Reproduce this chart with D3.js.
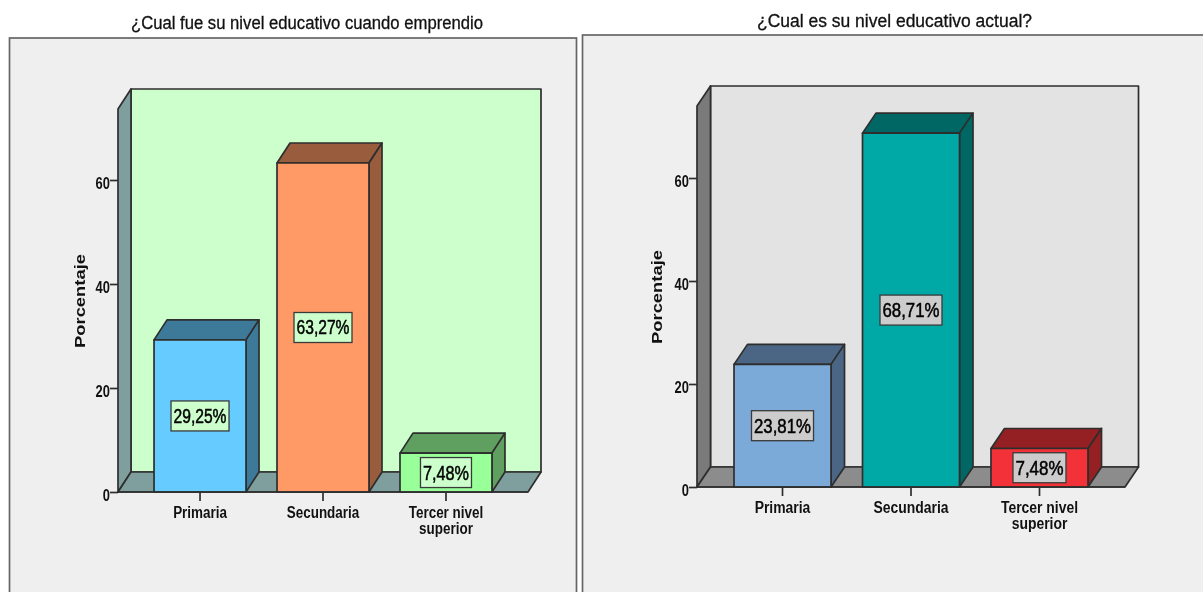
<!DOCTYPE html>
<html><head><meta charset="utf-8">
<script src="https://cdnjs.cloudflare.com/ajax/libs/d3/7.8.5/d3.min.js"></script>
<style>html,body{margin:0;padding:0;background:#fff;overflow:hidden}svg{display:block;filter:blur(0.4px)}</style>
</head><body><svg id="c" width="1203" height="592"></svg>
<script>
const categories = ["Primaria", "Secundaria", "Tercer nivel superior"];
const tickLabelLines = [["Primaria"], ["Secundaria"], ["Tercer nivel", "superior"]];
const yTicks = [0, 20, 40, 60];
const yTitle = "Porcentaje";

const leftTitle = "¿Cual fue su nivel educativo cuando emprendio";
const leftValues = [29.25, 63.27, 7.48];
const leftFronts = ["#66ccff", "#ff9966", "#99ff99"];
const leftDarks = ["#3d7a99", "#995c3d", "#5f9f5f"];

const rightTitle = "¿Cual es su nivel educativo actual?";
const rightValues = [23.81, 68.71, 7.48];
const rightFronts = ["#7ba9d8", "#00a9a5", "#f23238"];
const rightDarks = ["#4a6684", "#006764", "#942024"];

const svg = d3.select("#c");
const FONT = "'Liberation Sans',Arial,sans-serif";
const fmt = v => v.toFixed(2).replace(".", ",") + "%";
const poly = pts => d3.line()(pts) + "Z";
const EDGE = "#2e2e2e", SW = 1.7;

// condense a text element horizontally by a factor while keeping it real text
function condense(sel, f) {
  sel.each(function() {
    const w = this.getComputedTextLength();
    d3.select(this).attr("textLength", w * f).attr("lengthAdjust", "spacingAndGlyphs");
  });
}

function panel(o) {
  const g = svg.append("g");
  // frame
  g.append("rect").attr("x", o.fx).attr("y", o.fy).attr("width", o.fw).attr("height", 592 - o.fy + 5)
    .attr("fill", "#efefef").attr("stroke", "#666").attr("stroke-width", 1.7);
  g.append("text").text(o.title).attr("x", o.tx).attr("y", o.ty)
    .attr("textLength", o.tw).attr("lengthAdjust", "spacingAndGlyphs")
    .attr("font-family", FONT).attr("font-size", 18).attr("fill", "#111")
    .attr("stroke", "#111").attr("stroke-width", 0.3);

  const y = d3.scaleLinear().domain([0, 60]).range([o.y0, o.y60]);
  const x = d3.scaleBand().domain(o.cats).range([o.x0, o.x1])
    .paddingInner(o.pin).paddingOuter(o.pout);
  const {dx, dy} = o;
  const line = s => s.attr("stroke", EDGE).attr("stroke-width", SW).attr("stroke-linejoin", "round");

  // walls
  g.append("rect").attr("x", o.x0 + dx).attr("y", o.top - dy).attr("width", o.x1 - o.x0)
    .attr("height", o.y0 - o.top).attr("fill", o.wall).call(line);
  g.append("path").attr("d", poly([[o.x0, o.top], [o.x0 + dx, o.top - dy], [o.x0 + dx, o.y0 - dy], [o.x0, o.y0]]))
    .attr("fill", o.side).call(line);
  g.append("path").attr("d", poly([[o.x0, o.y0], [o.x0 + dx, o.y0 - dy], [o.x1 + dx, o.y0 - dy], [o.x1, o.y0]]))
    .attr("fill", o.floor).call(line);

  // bars
  const bars = g.selectAll("g.bar").data(o.cats.map((c, i) => ({c, v: o.values[i], f: o.fronts[i], d: o.darks[i]})))
    .join("g").attr("class", "bar");
  const bw = x.bandwidth();
  bars.append("path").attr("d", d => poly([[x(d.c), y(d.v)], [x(d.c) + dx, y(d.v) - dy], [x(d.c) + bw + dx, y(d.v) - dy], [x(d.c) + bw, y(d.v)]]))
    .attr("fill", d => d.d).call(line);
  bars.append("path").attr("d", d => poly([[x(d.c) + bw, y(d.v)], [x(d.c) + bw + dx, y(d.v) - dy], [x(d.c) + bw + dx, y(0) - dy], [x(d.c) + bw, y(0)]]))
    .attr("fill", d => d.d).call(line);
  bars.append("rect").attr("x", d => x(d.c)).attr("y", d => y(d.v)).attr("width", bw).attr("height", d => y(0) - y(d.v))
    .attr("fill", d => d.f).call(line);

  // value labels
  const cx = d => x(d.c) + bw / 2;
  const cy = d => (y(d.v) + y(0)) / 2;
  const boxOf = d => d.v >= 10 ? o.boxW : o.boxWs;
  bars.append("rect").attr("x", d => cx(d) - boxOf(d) / 2).attr("y", d => cy(d) - 15)
    .attr("width", boxOf).attr("height", 30)
    .attr("fill", o.boxFill).attr("stroke", "#3a3a3a").attr("stroke-width", 1.3);
  bars.append("text").text(d => fmt(d.v)).attr("x", cx).attr("y", d => cy(d) + 7)
    .attr("text-anchor", "middle").attr("textLength", d => boxOf(d) - 5).attr("lengthAdjust", "spacingAndGlyphs")
    .attr("font-family", FONT).attr("font-size", 20).attr("fill", "#000")
    .attr("stroke", "#000").attr("stroke-width", 0.5);

  // axes
  const yAxis = g.append("g").attr("transform", `translate(${o.x0},0)`)
    .call(d3.axisLeft(y).tickValues(yTicks).tickSize(8).tickPadding(0).tickFormat(d3.format("d")));
  yAxis.select(".domain").remove();
  yAxis.selectAll("line").attr("stroke", EDGE).attr("stroke-width", SW);
  yAxis.selectAll("text").attr("font-family", FONT).attr("font-size", 17).attr("font-weight", "bold").attr("fill", "#111")
    .attr("dy", "8.5px").call(condense, 0.76);

  const xAxis = g.append("g").attr("transform", `translate(0,${o.y0})`)
    .call(d3.axisBottom(x).tickSize(9).tickFormat(""));
  xAxis.select(".domain").attr("stroke", EDGE).attr("stroke-width", SW).attr("d", `M${o.x0},0H${o.x1}`);
  xAxis.selectAll("line").attr("stroke", EDGE).attr("stroke-width", SW);
  xAxis.selectAll("g.tick").each(function(c, i) {
    const t = d3.select(this);
    tickLabelLines[i].forEach((ln, j) => {
      t.append("text").text(ln).attr("y", 25.5 + j * 16.5).attr("text-anchor", "middle")
        .attr("font-family", FONT).attr("font-size", 16).attr("font-weight", "bold")
        .attr("fill", "#111").call(condense, o.tickF);
    });
  });

  // y title
  g.append("text").text(yTitle)
    .attr("transform", `translate(${o.ytx},${o.yty}) rotate(-90)`)
    .attr("text-anchor", "middle").attr("textLength", 94).attr("lengthAdjust", "spacingAndGlyphs")
    .attr("font-family", FONT).attr("font-size", 14).attr("font-weight", "bold").attr("fill", "#111");
}

panel({title: leftTitle, tx: 131, ty: 29, tw: 352, cats: categories, values: leftValues, fronts: leftFronts, darks: leftDarks,
  fx: 9.5, fy: 38, fw: 567, y0: 492, y60: 180, top: 109, x0: 118, x1: 528, pin: 0.252, pout: 0.293, dx: 13, dy: 20,
  wall: "#ccffcc", side: "#7f9f9f", floor: "#7f9f9f", boxFill: "#ccffcc", boxW: 58, boxWs: 51, tickF: 0.84, ytx: 85, yty: 301});
panel({title: rightTitle, tx: 757, ty: 27, tw: 275, cats: categories, values: rightValues, fronts: rightFronts, darks: rightDarks,
  fx: 582.5, fy: 35, fw: 630, y0: 487, y60: 178, top: 106, x0: 697, x1: 1125, pin: 0.245, pout: 0.288, dx: 13.5, dy: 20,
  wall: "#e3e3e3", side: "#7a7a7a", floor: "#8c8c8c", boxFill: "#cccccc", boxW: 62, boxWs: 53, tickF: 0.87, ytx: 662, yty: 297});
</script></body></html>
